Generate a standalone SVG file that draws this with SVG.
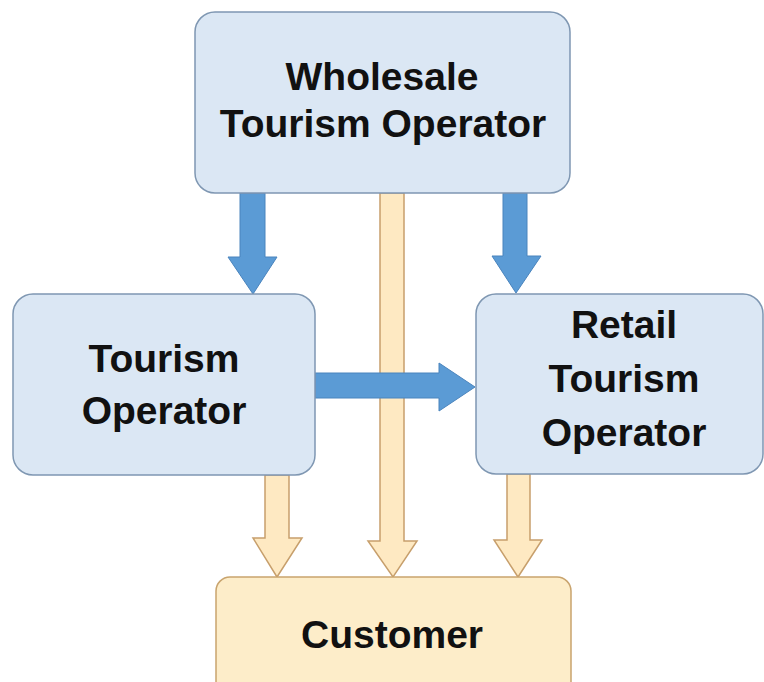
<svg xmlns="http://www.w3.org/2000/svg" width="764" height="682" viewBox="0 0 764 682">
<style>
.blue{fill:#dbe7f4;stroke:#7f97b2;stroke-width:1.5}
.cust{fill:#fdedc9;stroke:#c9a46e;stroke-width:1.5}
.barr{fill:#5b9bd5;stroke:#4a84bd;stroke-width:1}
.oarr{fill:#fee9c2;stroke:#c79f6c;stroke-width:1.5}
text{font-family:"Liberation Sans",Arial,sans-serif;font-weight:bold;font-size:39px;fill:#111;text-anchor:middle}
</style>
<rect width="764" height="682" fill="#fff"/>
<g id="connectors">
<polygon class="oarr" points="380,193 404,193 404,541 417,541 393,577 368,541 380,541"/>
<polygon class="oarr" points="265,475 289,475 289,538 302,538 277,577 253,538 265,538"/>
<polygon class="oarr" points="507,474 530,474 530,540 542,540 518,577 494,540 507,540"/>
<polygon class="barr" points="240,193 265,193 265,257 277,257 253,294 228,257 240,257"/>
<polygon class="barr" points="503,193 527,193 527,256 541,256 516,293 492,256 503,256"/>
<polygon class="barr" points="315,373 439,373 439,363 475,387 439,411 439,398 315,398"/>
</g>
<g id="wholesale">
<rect class="blue" x="195" y="12" width="375" height="181" rx="20"/>
<text x="382" y="90">Wholesale</text>
<text x="383" y="137">Tourism Operator</text>
</g>
<g id="tourism">
<rect class="blue" x="13" y="294" width="302" height="181" rx="20"/>
<text x="164" y="372">Tourism</text>
<text x="164" y="424">Operator</text>
</g>
<g id="retail">
<rect class="blue" x="476" y="294" width="287" height="180" rx="20"/>
<text x="624" y="338">Retail</text>
<text x="624" y="392">Tourism</text>
<text x="624" y="446">Operator</text>
</g>
<g id="customer">
<rect class="cust" x="216" y="577" width="355" height="130" rx="14"/>
<text x="392" y="648">Customer</text>
</g>
</svg>
